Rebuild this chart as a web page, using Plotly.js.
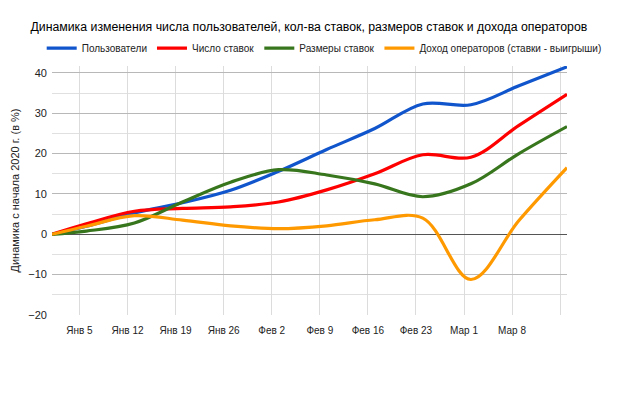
<!DOCTYPE html>
<html>
<head>
<meta charset="utf-8">
<script src="https://cdn.plot.ly/plotly-3.0.1.min.js"></script>
<style>
html,body{margin:0;padding:0;background:#fff;}
#chart{width:624px;height:398px;}
</style>
</head>
<body>
<div id="chart"></div>
<script>
const dates = ['2020-01-01','2020-01-06','2020-01-13','2020-01-20','2020-01-27','2020-02-03','2020-02-10','2020-02-17','2020-02-24','2020-03-02','2020-03-09','2020-03-16'];
const users   = [0, 2.0, 5.3, 7.8, 10.9, 15.6, 21.0, 26.2, 32.3, 32.1, 36.8, 41.5];
const bets    = [0, 2.6, 5.7, 6.4, 6.8, 8.0, 11.0, 15.0, 19.7, 19.1, 27.0, 34.7];
const betSize = [0, 0.8, 2.8, 8.0, 12.9, 16.0, 14.7, 12.5, 9.3, 12.5, 20.0, 26.7];
const income  = [0, 2.0, 4.6, 3.5, 2.1, 1.4, 2.1, 3.6, 4.0, -11.2, 3.4, 16.5];

const seriesNames = ['Пользователи','Число ставок','Размеры ставок','Доход операторов (ставки - выигрыши)'];
const seriesColors = ['#1155cc','#ff0000','#38761d','#ff9900'];
const seriesValues = [users, bets, betSize, income];

const tickDates = ['2020-01-05','2020-01-12','2020-01-19','2020-01-26','2020-02-02','2020-02-09','2020-02-16','2020-02-23','2020-03-01','2020-03-08','2020-03-15'];
const tickLabels = ['Янв 5','Янв 12','Янв 19','Янв 26','Фев 2','Фев 9','Фев 16','Фев 23','Мар 1','Мар 8',''];

const titleText = 'Динамика изменения числа пользователей, кол-ва ставок, размеров ставок и дохода операторов';
const yTitle = 'Динамика с начала 2020 г. (в %)';

const traces = seriesValues.map((v,i)=>({
  x: dates, y: v, name: seriesNames[i], type:'scatter', mode:'lines',
  line:{color:seriesColors[i], width:3.2, shape:'spline', smoothing:1}
}));

const font = "'Liberation Sans', Arial, sans-serif";
const layout = {
  width:624, height:398,
  margin:{l:52, r:57, t:66, b:83},
  paper_bgcolor:'#fff', plot_bgcolor:'#fff',
  font:{family:font, color:'#222', size:11},
  title:{text:titleText, font:{family:font, size:12.3, color:'#000'}, x:0.495, xanchor:'center', y:0.932, yanchor:'middle', yref:'container'},
  showlegend:true,
  legend:{orientation:'h', xref:'paper', x:-0.02, xanchor:'left', yref:'paper', y:1.072, yanchor:'middle', font:{family:font, size:10, color:'#222'}, itemwidth:30, tracegroupgap:0},
  xaxis:{
    type:'date', range:['2020-01-01','2020-03-16'],
    tickvals:tickDates, ticktext:tickLabels, tickangle:0,
    showgrid:true, gridcolor:'#dcdcdc', gridwidth:1,
    zeroline:false, showline:false, ticks:'', ticklabelstandoff:8,
    tickfont:{family:font, size:10, color:'#222'}
  },
  yaxis:{
    range:[-20, 41.7], tickvals:[-20,-10,0,10,20,30,40],
    showgrid:true, gridcolor:'#b8b8b8', gridwidth:1,
    minor:{dtick:5, tick0:0, showgrid:true, gridcolor:'#e0e0e0', gridwidth:1},
    zeroline:true, zerolinecolor:'#555', zerolinewidth:1,
    showline:false, ticks:'', ticklabelstandoff:4,
    tickfont:{family:font, size:11, color:'#222'},
    title:{text:yTitle, font:{family:font, size:11, color:'#222'}, standoff:6}
  }
};
Plotly.newPlot('chart', traces, layout, {displayModeBar:false, staticPlot:true});
</script>
</body>
</html>
